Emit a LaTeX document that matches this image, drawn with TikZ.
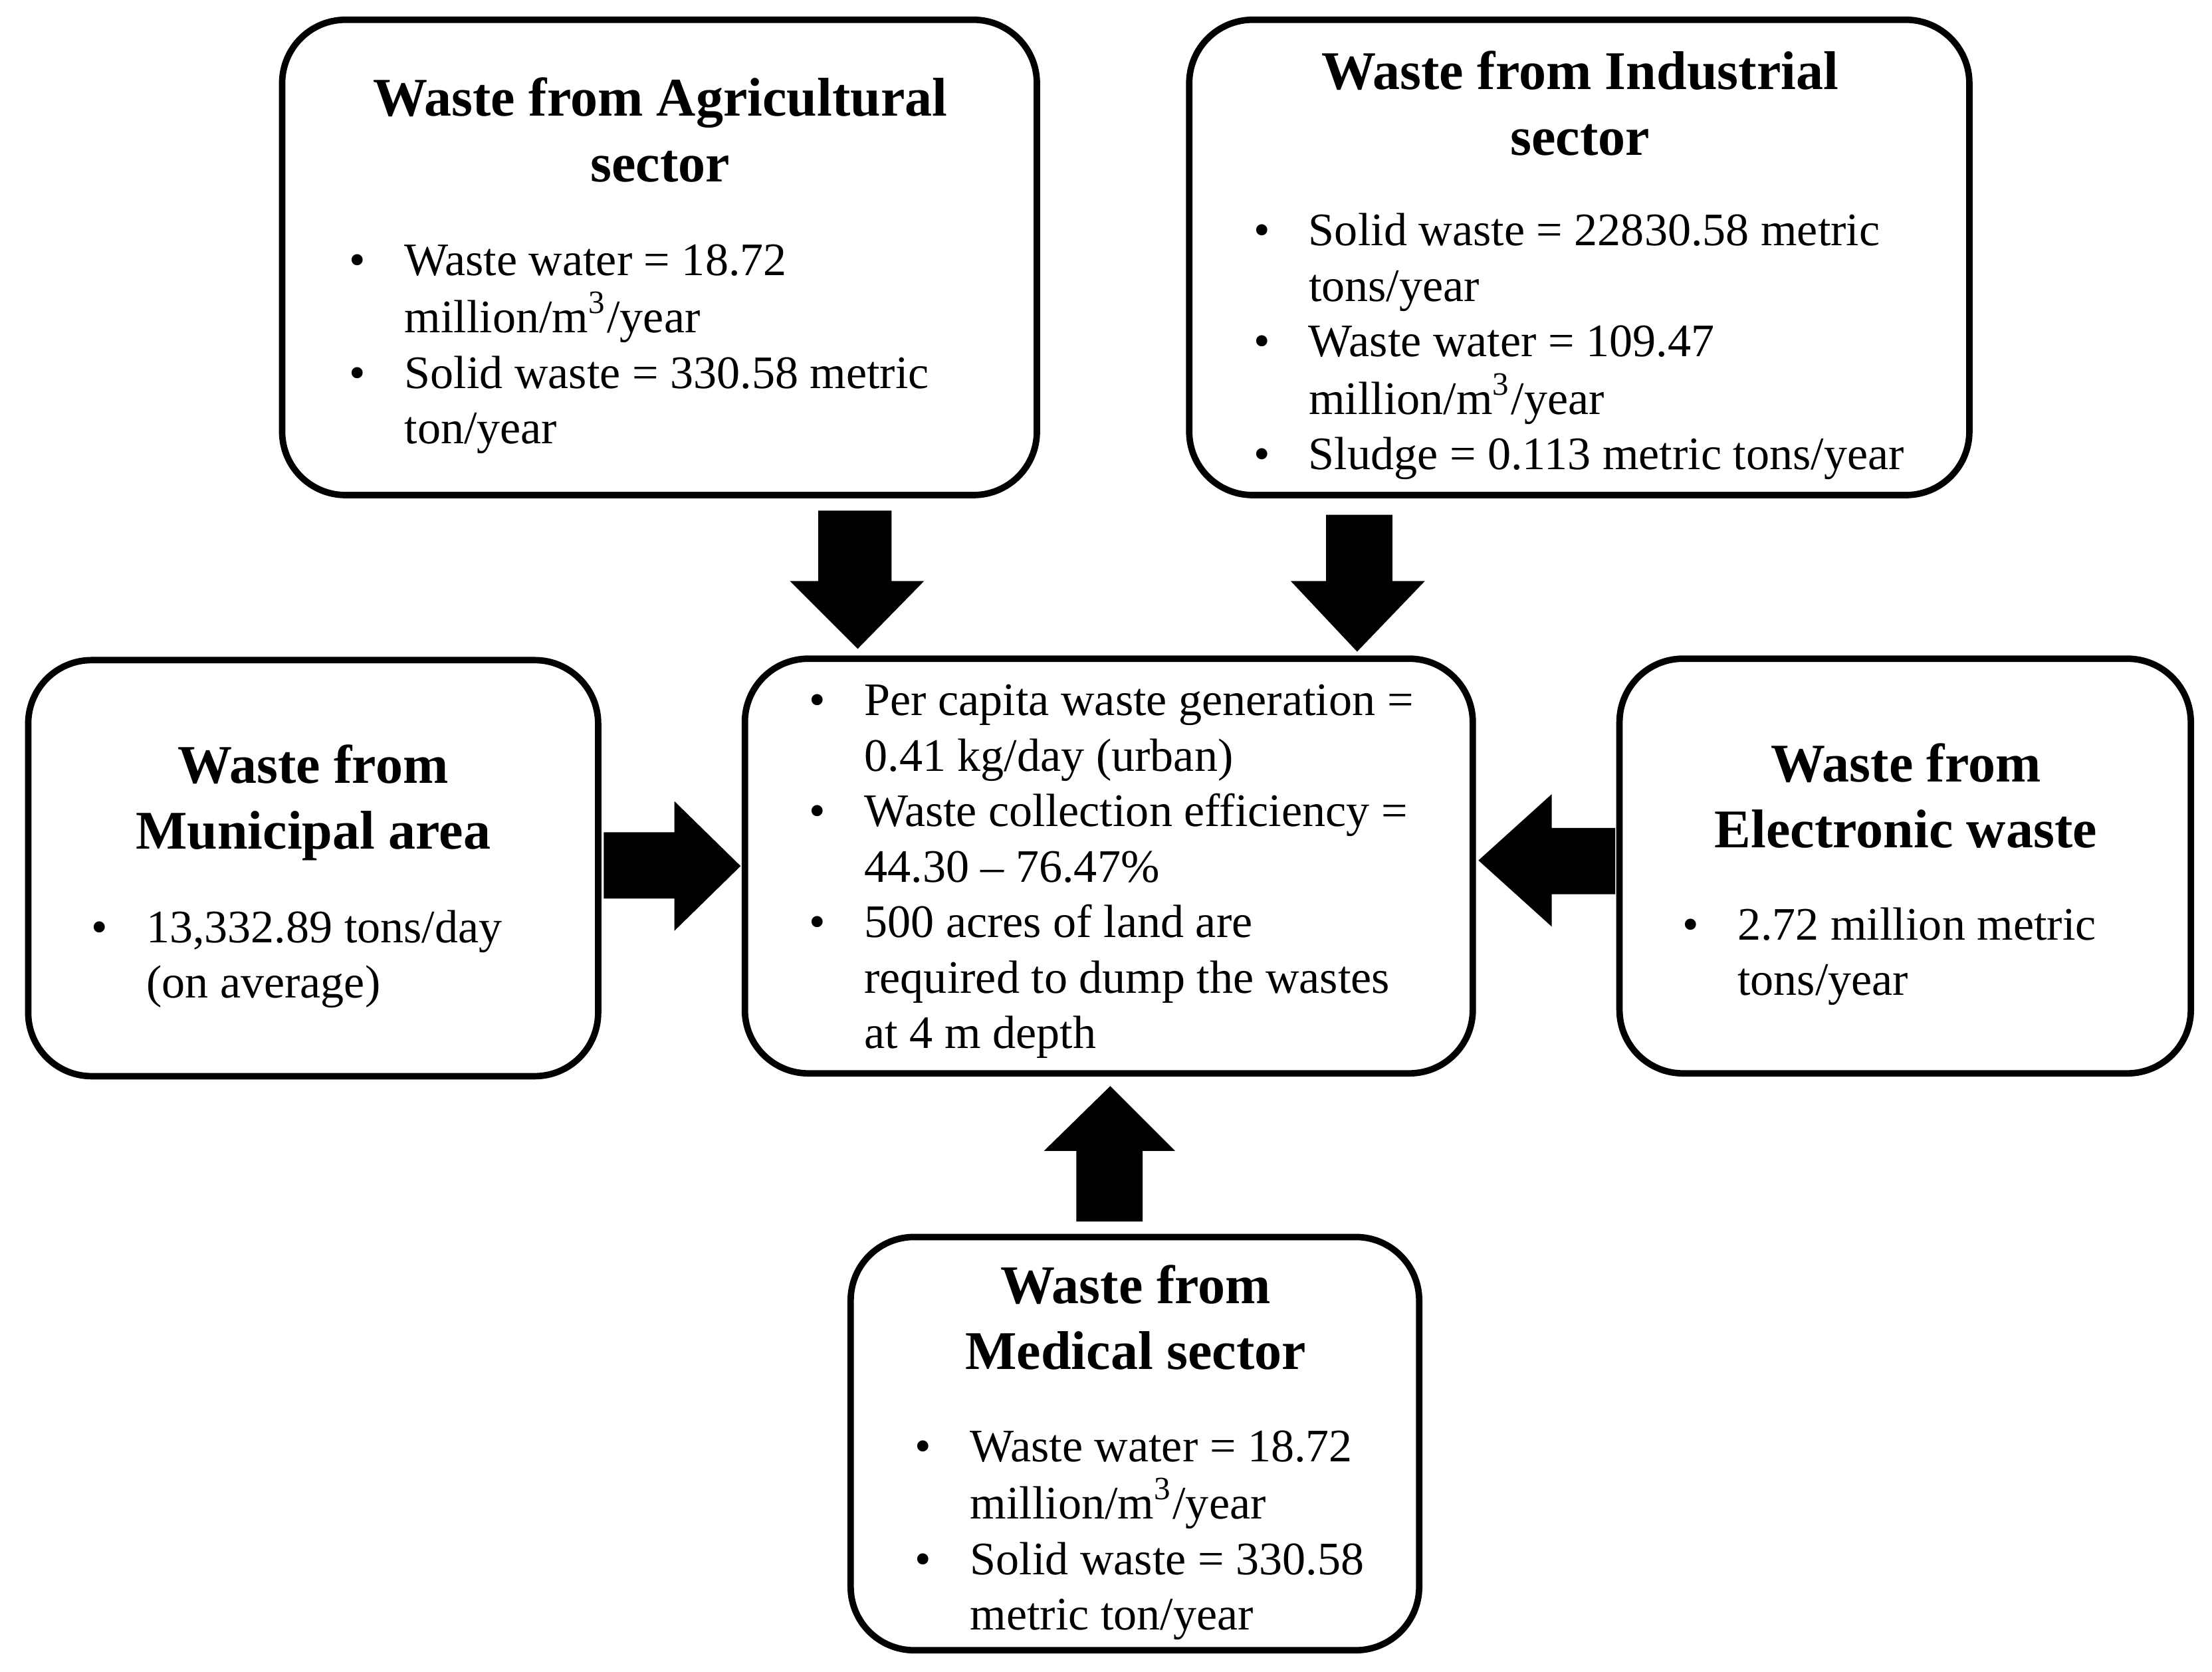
\documentclass[tikz,border=0pt]{standalone}
\usepackage{fontspec}
\setmainfont{Liberation Serif}
\begin{document}
\begin{tikzpicture}[x=0.1mm,y=-0.1mm,
  box/.style={draw=black,line width=1.3pt,rounded corners=4.5mm},
  ttl/.style={font=\fontsize{11}{13.3}\selectfont\bfseries,align=center,anchor=base,inner sep=0pt},
  lst/.style={font=\fontsize{9.4}{11.2}\selectfont,anchor=north west,inner sep=0pt},
  arr/.style={fill=black,draw=none}]
\useasboundingbox (0,0) rectangle (1568,1185);
\newcommand{\bl}[1]{\begin{tabular}{@{}p{3.9mm}@{}l@{}}#1\end{tabular}}
% boxes
\draw[box] (200,14) rectangle (735,351);
\draw[box] (843,14) rectangle (1396,351);
\draw[box] (20,468) rectangle (424,763);
\draw[box] (528,467) rectangle (1044,761);
\draw[box] (1148,467) rectangle (1553,761);
\draw[box] (603,877) rectangle (1006,1170);
% titles (base = last line)
\node[ttl] (t1) at (468,129) {Waste from Agricultural\\sector};
\node[ttl] (t2) at (1120,110) {Waste from Industrial\\sector};
\node[ttl] (t3) at (222,602) {Waste from\\Municipal area};
\node[ttl] (t4) at (1351,601) {Waste from\\Electronic waste};
\node[ttl] (t5) at (805,971) {Waste from\\Medical sector};
% lists
\node[lst] (l1) at (247,167) {\bl{\textbullet & Waste water = 18.72\\ & million/m\textsuperscript{3}/year\\ \textbullet & Solid waste = 330.58 metric\\ & ton/year}};
\node[lst] (l2) at (888,146) {\bl{\textbullet & Solid waste = 22830.58 metric\\ & tons/year\\ \textbullet & Waste water = 109.47\\ & million/m\textsuperscript{3}/year\\ \textbullet & Sludge = 0.113 metric tons/year}};
\node[lst] (l3) at (64,640) {\bl{\textbullet & 13,332.89 tons/day\\ & (on average)}};
\node[lst] (l0) at (573,479) {\bl{\textbullet & Per capita waste generation =\\ & 0.41 kg/day (urban)\\ \textbullet & Waste collection efficiency =\\ & 44.30 -- 76.47\%\\ \textbullet & 500 acres of land are\\ & required to dump the wastes\\ & at 4 m depth}};
\node[lst] (l4) at (1192,638) {\bl{\textbullet & 2.72 million metric\\ & tons/year}};
\node[lst] (l5) at (648,1008) {\bl{\textbullet & Waste water = 18.72\\ & million/m\textsuperscript{3}/year\\ \textbullet & Solid waste = 330.58\\ & metric ton/year}};
% arrows
\fill[arr] (580,362) -- (632,362) -- (632,412) -- (655,412) -- (608,460) -- (560,412) -- (580,412) -- cycle;
\fill[arr] (940,365) -- (987,365) -- (987,412) -- (1010,412) -- (962,462) -- (915,412) -- (940,412) -- cycle;
\fill[arr] (428,590) -- (478,590) -- (478,568) -- (525,614) -- (478,660) -- (478,637) -- (428,637) -- cycle;
\fill[arr] (1145,587) -- (1100,587) -- (1100,563) -- (1048,610) -- (1100,657) -- (1100,634) -- (1145,634) -- cycle;
\fill[arr] (763,866) -- (810,866) -- (810,816) -- (833,816) -- (787,770) -- (740,816) -- (763,816) -- cycle;
\end{tikzpicture}
\end{document}
